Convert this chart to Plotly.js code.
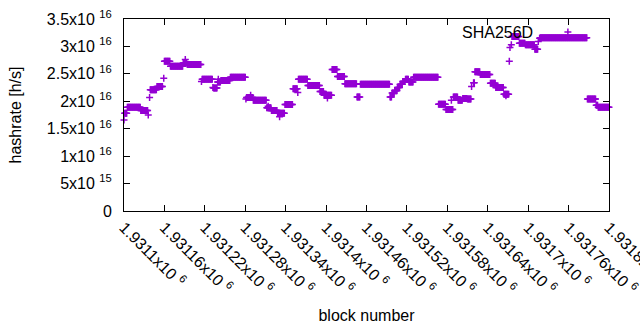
<!DOCTYPE html>
<html><head><meta charset="utf-8">
<script src="https://cdn.plot.ly/plotly-3.0.1.min.js"></script>
<style>html,body{margin:0;padding:0;background:#fff}</style>
</head><body><div id="chart" style="width:640px;height:330px"></div>
<script>
// Data: runs of constant hashrate per block range (offset from blockBase)
const blockBase = 1931100;
const runStart = [0,1,5,25,36,38,39,49,59,60,69,88,91,94,115,116,132,133,139,140,144,158,181,182,188,192,212,214,219,228,231,239,251,258,259,273,291,297,302,309,317,328,346,351,395,398,402,406,410,414,418,423,430,467,478,486,489,496,503,510,516,519,521,529,544,552,564,567,572,573,575,576,587,596,610,615,617,618,688,701,704];
const runEnd   = [0,4,24,35,36,38,48,57,59,68,87,93,91,114,115,131,132,138,143,140,157,180,181,191,188,211,218,214,227,238,231,250,257,258,272,290,296,308,302,316,327,345,350,394,397,401,405,409,413,417,422,429,466,477,488,486,495,502,509,515,516,520,528,543,551,563,571,567,572,573,575,586,595,609,614,615,617,687,700,703,720];
const runValue = [1.66e16,1.78e16,1.89e16,1.83e16,1.75e16,2.07e16,2.21e16,2.27e16,2.42e16,2.73e16,2.64e16,2.70e16,2.76e16,2.67e16,2.36e16,2.40e16,2.25e16,2.24e16,2.35e16,2.40e16,2.38e16,2.44e16,2.04e16,2.07e16,2.11e16,2.02e16,1.88e16,1.91e16,1.83e16,1.78e16,1.72e16,1.94e16,2.23e16,2.16e16,2.40e16,2.29e16,2.18e16,2.11e16,2.06e16,2.58e16,2.45e16,2.32e16,2.08e16,2.31e16,2.08e16,2.15e16,2.19e16,2.25e16,2.31e16,2.36e16,2.40e16,2.35e16,2.44e16,1.945e16,1.85e16,2.02e16,2.08e16,2.02e16,2.05e16,2.04e16,2.27e16,2.34e16,2.54e16,2.49e16,2.33e16,2.25e16,2.13e16,2.10e16,2.73e16,2.98e16,3.03e16,3.18e16,3.06e16,3.03e16,2.95e16,3.09e16,3.15e16,3.16e16,2.04e16,1.93e16,1.89e16];

const xTickValues = [1931100,1931160,1931220,1931280,1931340,1931400,1931460,1931520,1931580,1931640,1931700,1931760,1931820];
const xTickLabels = ['1.9311x10 <sup>6</sup>','1.93116x10 <sup>6</sup>','1.93122x10 <sup>6</sup>','1.93128x10 <sup>6</sup>','1.93134x10 <sup>6</sup>','1.9314x10 <sup>6</sup>','1.93146x10 <sup>6</sup>','1.93152x10 <sup>6</sup>','1.93158x10 <sup>6</sup>','1.93164x10 <sup>6</sup>','1.9317x10 <sup>6</sup>','1.93176x10 <sup>6</sup>','1.93182x10 <sup>6</sup>'];
const yTickValues = [0,5e15,1e16,1.5e16,2e16,2.5e16,3e16,3.5e16];
const yTickLabels = ['0','5x10 <sup>15</sup>','1x10 <sup>16</sup>','1.5x10 <sup>16</sup>','2x10 <sup>16</sup>','2.5x10 <sup>16</sup>','3x10 <sup>16</sup>','3.5x10 <sup>16</sup>'];
const seriesName = 'SHA256D';

// expand runs into one point per block
const xs = [], ys = [];
for (let i = 0; i < runStart.length; i++) {
  for (let b = runStart[i]; b <= runEnd[i]; b++) {
    xs.push(blockBase + b);
    ys.push(runValue[i]);
  }
}

const font = {family: 'Liberation Sans, Arial, sans-serif', size: 16, color: '#000'};
const purple = '#9400d3';

const trace = {
  x: xs, y: ys, type: 'scatter', mode: 'markers', name: ' ',
  cliponaxis: false, showlegend: true,
  marker: {symbol: 'cross-thin', size: 5, color: purple, line: {color: purple, width: 1.5}}
};

const layout = {
  width: 640, height: 330,
  margin: {l: 124, r: 31, t: 19, b: 119},
  paper_bgcolor: '#fff', plot_bgcolor: '#fff',
  font: font,
  showlegend: true,
  legend: {
    x: 0.874, xanchor: 'left', y: 0.932, yanchor: 'middle',
    bgcolor: 'rgba(0,0,0,0)', borderwidth: 0,
    font: font, itemwidth: 30
  },
  annotations: [{
    text: seriesName, xref: 'paper', yref: 'paper', x: 0.847, y: 0.932,
    xanchor: 'right', yanchor: 'middle', showarrow: false, font: font
  }],
  xaxis: {
    range: [1931100, 1931820], tickmode: 'array', tickvals: xTickValues, ticktext: xTickLabels,
    tickangle: 45, ticks: 'inside', ticklen: 6, tickcolor: '#000', tickwidth: 1,
    showline: true, linecolor: '#000', linewidth: 1, mirror: 'ticks',
    showgrid: false, zeroline: false, tickfont: font, automargin: false,
    ticklabelstandoff: 0, ticklabeloverflow: 'allow',
    title: {text: 'block number', font: font, standoff: 13}
  },
  yaxis: {
    range: [0, 3.5e16], tickmode: 'array', tickvals: yTickValues, ticktext: yTickLabels,
    ticks: 'inside', ticklen: 6, tickcolor: '#000', tickwidth: 1,
    showline: true, linecolor: '#000', linewidth: 1, mirror: 'ticks',
    showgrid: false, zeroline: false, tickfont: font, automargin: false,
    ticklabelstandoff: 8,
    title: {text: 'hashrate [h/s]', font: font, standoff: 21}
  }
};

Plotly.newPlot('chart', [trace], layout, {staticPlot: true, displayModeBar: false});
</script>
</body></html>
